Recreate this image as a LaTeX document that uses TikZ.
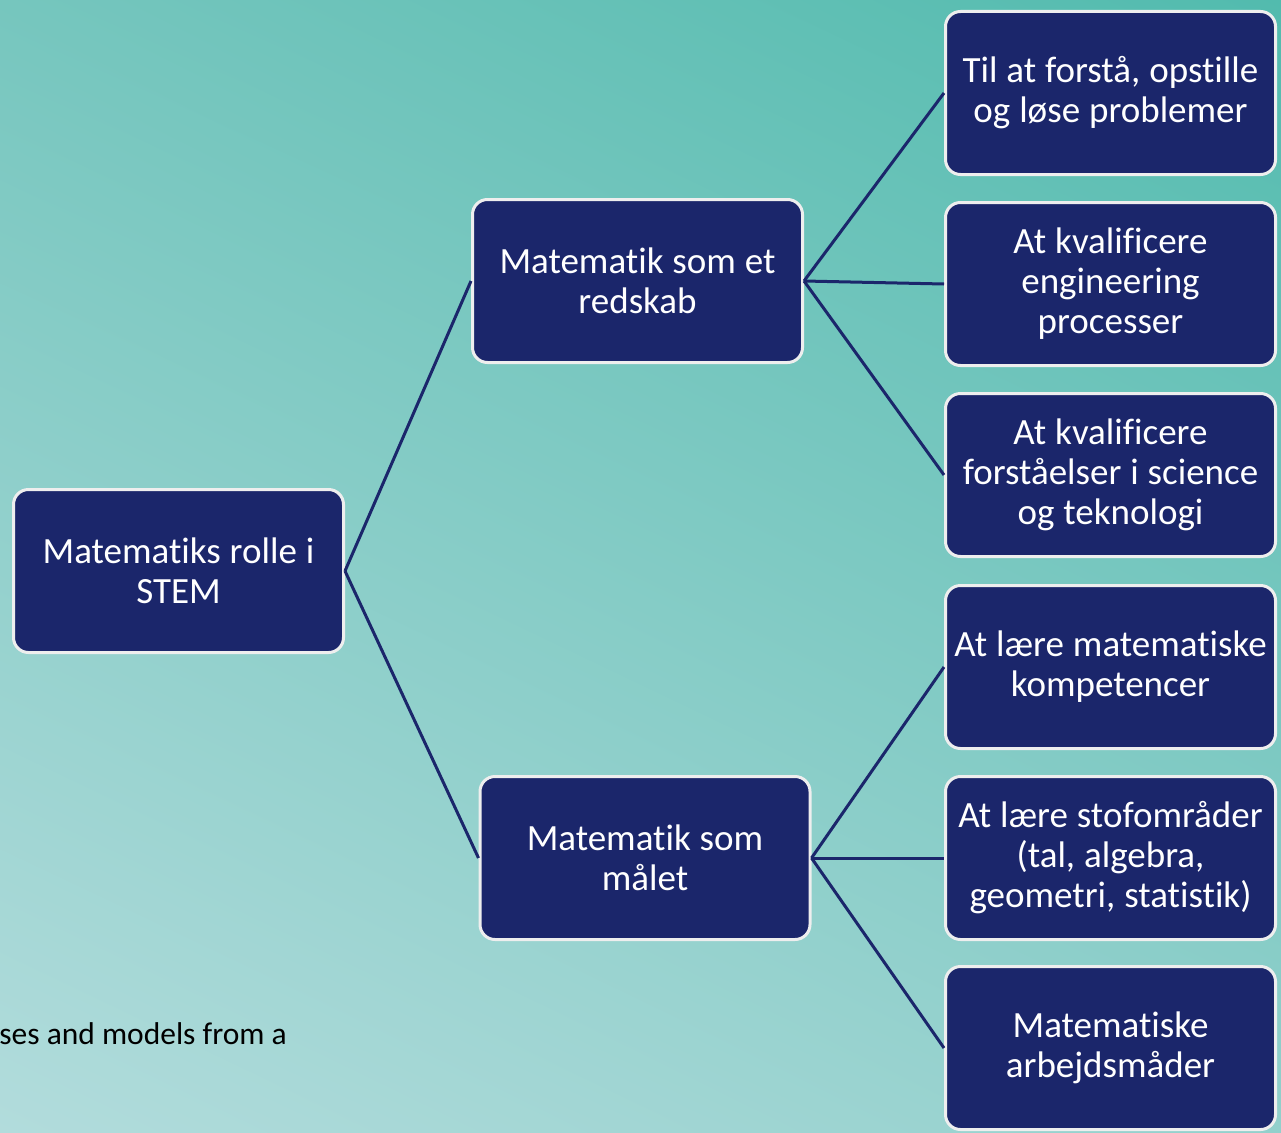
\documentclass[tikz,border=0pt]{standalone}
\usepackage{fontspec}
\setmainfont{Carlito}[Ligatures=NoCommon]
\usetikzlibrary{shadings}
\definecolor{navy}{HTML}{1B266B}
\definecolor{edge}{HTML}{EEEEEE}
\definecolor{bgUL}{HTML}{76C6BE}
\definecolor{bgUR}{HTML}{52BBAE}
\definecolor{bgLL}{HTML}{B2DCDC}
\definecolor{bgLR}{HTML}{92D0CC}
\begin{document}
\begin{tikzpicture}[x=1pt,y=-1pt,
  box/.style={rectangle, rounded corners=15pt, fill=navy, draw=edge, line width=3pt,
    minimum width=330pt, minimum height=163pt, text width=322pt,
    execute at begin node={\centering\spaceskip=0.24em\relax},
    text=white, font=\fontsize{37}{40}\selectfont, inner sep=0pt},
  link/.style={draw=navy, line width=3pt}]
\useasboundingbox (0,0) rectangle (1281,1132);
\clip (0,0) rectangle (1281,1132);
\shade[upper left=bgUL, upper right=bgUR, lower left=bgLL, lower right=bgLR] (0,0) rectangle (1281,1132);
\node[anchor=base east, font=\fontsize{31.5}{36}\selectfont, text=black, inner sep=0pt] (note) at (287,1044) {ses and models from a};
\node[box] (root) at (178.5,571) {Matematiks rolle i\\STEM};
\node[box] (m1) at (637.5,281) {Matematik som et\\redskab};
\node[box] (m2) at (645,858) {Matematik som\\målet};
\node[box] (r1) at (1110.5,93) {Til at forstå, opstille\\og løse problemer};
\node[box] (r2) at (1110.5,284) {At kvalificere\\engineering\\processer};
\node[box] (r3) at (1110.5,475) {At kvalificere\\forståelser i science\\og teknologi};
\node[box] (r4) at (1110.5,667) {At lære matematiske\\kompetencer};
\node[box] (r5) at (1110.5,858) {At lære stofområder\\(tal, algebra,\\geometri, statistik)};
\node[box] (r6) at (1110.5,1048) {Matematiske\\arbejdsmåder};
\draw[link] (root.east) -- (m1.west);
\draw[link] (root.east) -- (m2.west);
\draw[link] (m1.east) -- (r1.west);
\draw[link] (m1.east) -- (r2.west);
\draw[link] (m1.east) -- (r3.west);
\draw[link] (m2.east) -- (r4.west);
\draw[link] (m2.east) -- (r5.west);
\draw[link] (m2.east) -- (r6.west);
\end{tikzpicture}
\end{document}
